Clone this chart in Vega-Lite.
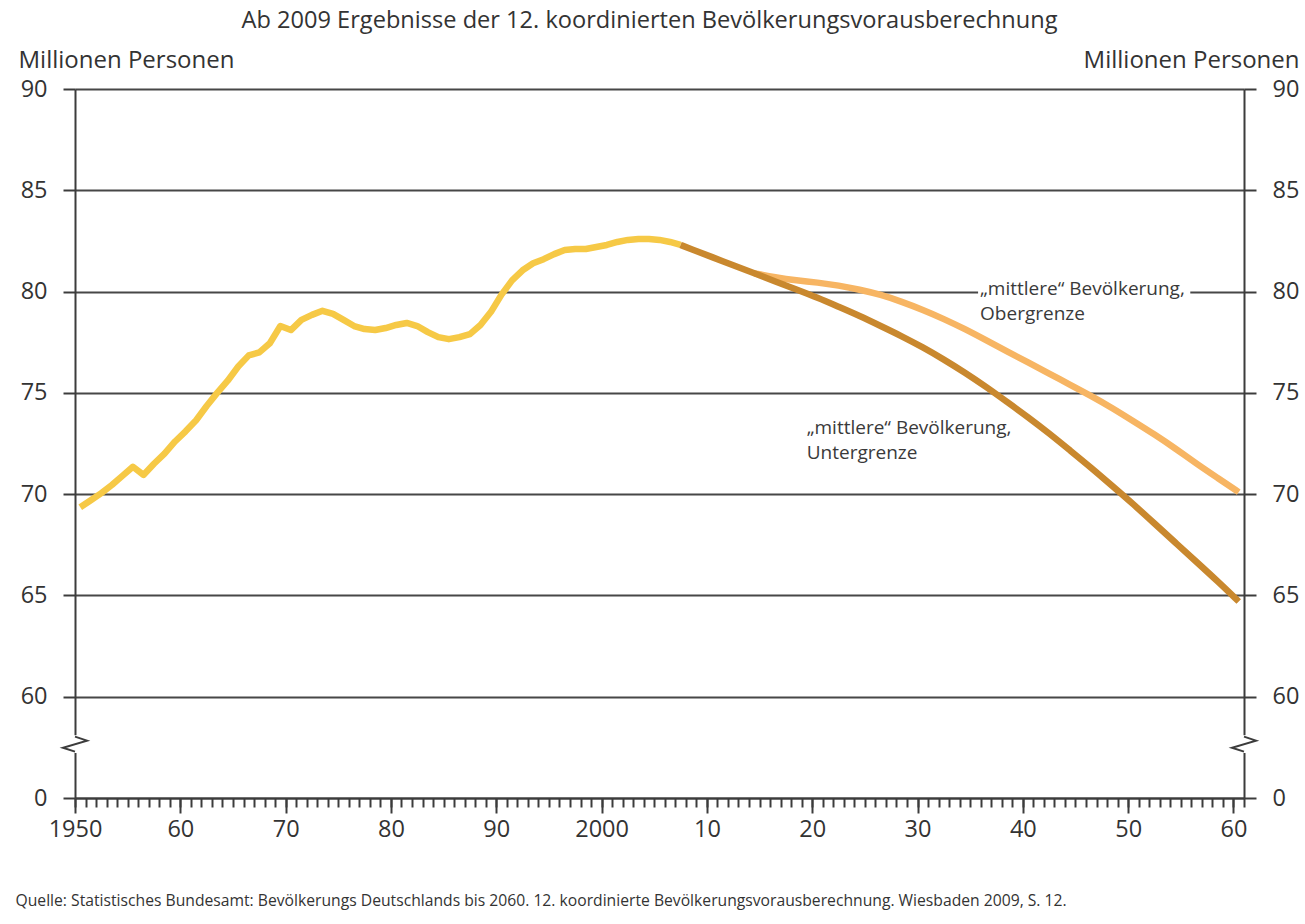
{
  "$schema": "https://vega.github.io/schema/vega-lite/v6.json",
  "width": 1169,
  "height": 709,
  "autosize": "none",
  "padding": {"left": 75, "top": 89, "right": 61, "bottom": 126},
  "background": "white",
  "title": {
    "text": "Ab 2009 Ergebnisse der 12. koordinierten Bevölkerungsvorausberechnung",
    "anchor": "middle",
    "frame": "group",
    "font": "Open Sans",
    "fontSize": 23.6,
    "fontWeight": "normal",
    "color": "#333333",
    "dx": -10,
    "offset": 15
  },
  "config": {
    "view": {"stroke": null},
    "font": "Open Sans",
    "axis": {
      "domainColor": "#3c3c3c",
      "domainWidth": 2,
      "tickColor": "#3c3c3c",
      "tickWidth": 2,
      "gridColor": "#474747",
      "gridWidth": 2,
      "labelFont": "Open Sans",
      "labelColor": "#333333",
      "labelFontSize": 23.5,
      "titleFont": "Open Sans",
      "titleColor": "#333333",
      "titleFontWeight": "normal"
    }
  },
  "datasets": {
    "hist": [
      {"year": 1950, "value": 69.35}, {"year": 1951, "value": 69.7}, {"year": 1952, "value": 70.05},
      {"year": 1953, "value": 70.45}, {"year": 1954, "value": 70.9}, {"year": 1955, "value": 71.35},
      {"year": 1956, "value": 70.95}, {"year": 1957, "value": 71.5}, {"year": 1958, "value": 72.0},
      {"year": 1959, "value": 72.6}, {"year": 1960, "value": 73.1}, {"year": 1961, "value": 73.65},
      {"year": 1962, "value": 74.35}, {"year": 1963, "value": 75.0}, {"year": 1964, "value": 75.6},
      {"year": 1965, "value": 76.3}, {"year": 1966, "value": 76.85}, {"year": 1967, "value": 77.0},
      {"year": 1968, "value": 77.45}, {"year": 1969, "value": 78.3}, {"year": 1970, "value": 78.1},
      {"year": 1971, "value": 78.6}, {"year": 1972, "value": 78.85}, {"year": 1973, "value": 79.05},
      {"year": 1974, "value": 78.9}, {"year": 1975, "value": 78.6}, {"year": 1976, "value": 78.3},
      {"year": 1977, "value": 78.15}, {"year": 1978, "value": 78.1}, {"year": 1979, "value": 78.2},
      {"year": 1980, "value": 78.35}, {"year": 1981, "value": 78.45}, {"year": 1982, "value": 78.3},
      {"year": 1983, "value": 78.0}, {"year": 1984, "value": 77.75}, {"year": 1985, "value": 77.65},
      {"year": 1986, "value": 77.75}, {"year": 1987, "value": 77.9}, {"year": 1988, "value": 78.35},
      {"year": 1989, "value": 79.0}, {"year": 1990, "value": 79.85}, {"year": 1991, "value": 80.55},
      {"year": 1992, "value": 81.05}, {"year": 1993, "value": 81.4}, {"year": 1994, "value": 81.6},
      {"year": 1995, "value": 81.85}, {"year": 1996, "value": 82.05}, {"year": 1997, "value": 82.1},
      {"year": 1998, "value": 82.1}, {"year": 1999, "value": 82.2}, {"year": 2000, "value": 82.3},
      {"year": 2001, "value": 82.45}, {"year": 2002, "value": 82.55}, {"year": 2003, "value": 82.6},
      {"year": 2004, "value": 82.6}, {"year": 2005, "value": 82.55}, {"year": 2006, "value": 82.45},
      {"year": 2007, "value": 82.3}
    ],
    "unter": [
      {"year": 2007, "value": 82.3}, {"year": 2008, "value": 82.1}, {"year": 2010, "value": 81.7},
      {"year": 2012, "value": 81.3}, {"year": 2014, "value": 80.9}, {"year": 2016, "value": 80.5},
      {"year": 2018, "value": 80.1}, {"year": 2020, "value": 79.7}, {"year": 2022, "value": 79.25},
      {"year": 2024, "value": 78.8}, {"year": 2026, "value": 78.3}, {"year": 2028, "value": 77.8},
      {"year": 2030, "value": 77.25}, {"year": 2032, "value": 76.65}, {"year": 2034, "value": 76.0},
      {"year": 2036, "value": 75.3}, {"year": 2038, "value": 74.55}, {"year": 2040, "value": 73.8},
      {"year": 2042, "value": 73.0}, {"year": 2044, "value": 72.15}, {"year": 2046, "value": 71.3},
      {"year": 2048, "value": 70.4}, {"year": 2050, "value": 69.5}, {"year": 2052, "value": 68.55},
      {"year": 2054, "value": 67.6}, {"year": 2056, "value": 66.65}, {"year": 2058, "value": 65.7},
      {"year": 2060, "value": 64.7}
    ],
    "ober": [
      {"year": 2014, "value": 80.9}, {"year": 2016, "value": 80.7}, {"year": 2018, "value": 80.55},
      {"year": 2020, "value": 80.45}, {"year": 2022, "value": 80.3}, {"year": 2024, "value": 80.1},
      {"year": 2026, "value": 79.85}, {"year": 2028, "value": 79.5}, {"year": 2030, "value": 79.1},
      {"year": 2032, "value": 78.65}, {"year": 2034, "value": 78.15}, {"year": 2036, "value": 77.6},
      {"year": 2038, "value": 77.05}, {"year": 2040, "value": 76.5}, {"year": 2042, "value": 75.95},
      {"year": 2044, "value": 75.4}, {"year": 2046, "value": 74.85}, {"year": 2048, "value": 74.25},
      {"year": 2050, "value": 73.6}, {"year": 2052, "value": 72.95}, {"year": 2054, "value": 72.25},
      {"year": 2056, "value": 71.5}, {"year": 2058, "value": 70.8}, {"year": 2060, "value": 70.1}
    ],
    "labels": [
      {"year": 2035.44, "value": 80.56, "text": "„mittlere“ Bevölkerung,"},
      {"year": 2035.44, "value": 79.33, "text": "Obergrenze"},
      {"year": 2018.98, "value": 73.72, "text": "„mittlere“ Bevölkerung,"},
      {"year": 2018.98, "value": 72.49, "text": "Untergrenze"}
    ],
    "mask": [
      {"x1": 2035.25, "x2": 2055.4, "y1": 80.35, "y2": 79.65}
    ],
    "brk": [
      {"side": "L", "i": 0, "year": 1949.5, "value": 58.03},
      {"side": "L", "i": 1, "year": 1950.64, "value": 57.83},
      {"side": "L", "i": 2, "year": 1948.36, "value": 57.48},
      {"side": "L", "i": 3, "year": 1949.5, "value": 57.29},
      {"side": "R", "i": 0, "year": 2060.5, "value": 58.03},
      {"side": "R", "i": 1, "year": 2061.64, "value": 57.83},
      {"side": "R", "i": 2, "year": 2059.36, "value": 57.48},
      {"side": "R", "i": 3, "year": 2060.5, "value": 57.29}
    ],
    "cover": [
      {"year": 1949.5, "top": 58.1, "bottom": 57.22},
      {"year": 2060.5, "top": 58.1, "bottom": 57.22}
    ]
  },
  "layer": [
    {
      "data": {"name": "hist"},
      "mark": {"type": "line", "color": "#F6C946", "strokeWidth": 6.5, "strokeCap": "butt", "strokeJoin": "round"},
      "encoding": {
        "x": {
          "field": "year", "type": "quantitative",
          "scale": {"domain": [1949.5, 2060.5], "nice": false, "zero": false},
          "axis": {
            "orient": "bottom",
            "values": [1949.5, 1959.5, 1969.5, 1979.5, 1989.5, 1999.5, 2009.5, 2019.5, 2029.5, 2039.5, 2049.5, 2059.5],
            "labelExpr": "datum.value == 1949.5 || datum.value == 1999.5 ? toString(datum.value + 0.5) : substring(toString(datum.value + 0.5), 2, 4)",
            "tickSize": 15,
            "labelPadding": 4,
            "grid": false,
            "labelFlush": false,
            "labelOverlap": false,
            "title": "Quelle: Statistisches Bundesamt: Bevölkerungs Deutschlands bis 2060. 12. koordinierte Bevölkerungsvorausberechnung. Wiesbaden 2009, S. 12.",
            "titleFont": "Open Sans",
            "titleFontSize": 15.7,
            "titleAlign": "left",
            "titleBaseline": "alphabetic",
            "titleAnchor": "start",
            "titleX": -60,
            "titleY": 107
          }
        },
        "y": {
          "field": "value", "type": "quantitative",
          "scale": {"domain": [55, 90], "nice": false, "zero": false},
          "axis": {
            "orient": "left",
            "values": [55, 60, 65, 70, 75, 80, 85, 90],
            "labelExpr": "datum.value == 55 ? '0' : toString(datum.value)",
            "tickSize": 12,
            "labelPadding": 16,
            "grid": true,
            "labelFlush": false,
            "labelOverlap": false,
            "title": "Millionen Personen",
            "titleFontSize": 24,
            "titleAngle": 0,
            "titleAlign": "left",
            "titleBaseline": "alphabetic",
            "titleX": -57,
            "titleY": -22
          }
        }
      }
    },
    {
      "data": {"name": "ober"},
      "mark": {"type": "line", "color": "#F7B563", "strokeWidth": 6.5, "strokeCap": "butt", "interpolate": "basis"},
      "encoding": {
        "x": {
          "field": "year", "type": "quantitative",
          "scale": {"domain": [1949.5, 2060.5], "nice": false, "zero": false},
          "axis": {
            "orient": "bottom",
            "values": [1949.5, 1950.5, 1951.5, 1952.5, 1953.5, 1954.5, 1955.5, 1956.5, 1957.5, 1958.5,
                       1959.5, 1960.5, 1961.5, 1962.5, 1963.5, 1964.5, 1965.5, 1966.5, 1967.5, 1968.5,
                       1969.5, 1970.5, 1971.5, 1972.5, 1973.5, 1974.5, 1975.5, 1976.5, 1977.5, 1978.5,
                       1979.5, 1980.5, 1981.5, 1982.5, 1983.5, 1984.5, 1985.5, 1986.5, 1987.5, 1988.5,
                       1989.5, 1990.5, 1991.5, 1992.5, 1993.5, 1994.5, 1995.5, 1996.5, 1997.5, 1998.5,
                       1999.5, 2000.5, 2001.5, 2002.5, 2003.5, 2004.5, 2005.5, 2006.5, 2007.5, 2008.5,
                       2009.5, 2010.5, 2011.5, 2012.5, 2013.5, 2014.5, 2015.5, 2016.5, 2017.5, 2018.5,
                       2019.5, 2020.5, 2021.5, 2022.5, 2023.5, 2024.5, 2025.5, 2026.5, 2027.5, 2028.5,
                       2029.5, 2030.5, 2031.5, 2032.5, 2033.5, 2034.5, 2035.5, 2036.5, 2037.5, 2038.5,
                       2039.5, 2040.5, 2041.5, 2042.5, 2043.5, 2044.5, 2045.5, 2046.5, 2047.5, 2048.5,
                       2049.5, 2050.5, 2051.5, 2052.5, 2053.5, 2054.5, 2055.5, 2056.5, 2057.5, 2058.5,
                       2059.5, 2060.5],
            "labels": false,
            "domain": false,
            "grid": false,
            "tickSize": 9,
            "title": null
          }
        },
        "y": {
          "field": "value", "type": "quantitative",
          "scale": {"domain": [55, 90], "nice": false, "zero": false},
          "axis": {
            "orient": "right",
            "values": [55, 60, 65, 70, 75, 80, 85, 90],
            "labelExpr": "datum.value == 55 ? '0' : toString(datum.value)",
            "tickSize": 12,
            "labelPadding": 16,
            "grid": false,
            "labelFlush": false,
            "labelOverlap": false,
            "title": "Millionen Personen",
            "titleFontSize": 24,
            "titleAngle": 0,
            "titleAlign": "right",
            "titleBaseline": "alphabetic",
            "titleX": 55,
            "titleY": -22
          }
        }
      }
    },
    {
      "data": {"name": "unter"},
      "mark": {"type": "line", "color": "#C9882E", "strokeWidth": 6.5, "strokeCap": "butt", "interpolate": "basis"},
      "encoding": {
        "x": {"field": "year", "type": "quantitative", "scale": {"domain": [1949.5, 2060.5], "nice": false, "zero": false}, "axis": null},
        "y": {"field": "value", "type": "quantitative", "scale": {"domain": [55, 90], "nice": false, "zero": false}, "axis": null}
      }
    },
    {
      "data": {"name": "mask"},
      "mark": {"type": "rect", "color": "white"},
      "encoding": {
        "x": {"field": "x1", "type": "quantitative", "scale": {"domain": [1949.5, 2060.5], "nice": false, "zero": false}, "axis": null},
        "x2": {"field": "x2"},
        "y": {"field": "y1", "type": "quantitative", "scale": {"domain": [55, 90], "nice": false, "zero": false}, "axis": null},
        "y2": {"field": "y2"}
      }
    },
    {
      "data": {"name": "labels"},
      "mark": {"type": "text", "align": "left", "baseline": "top", "fontSize": 19, "font": "Open Sans", "color": "#3a3a3a"},
      "encoding": {
        "x": {"field": "year", "type": "quantitative", "scale": {"domain": [1949.5, 2060.5], "nice": false, "zero": false}, "axis": null},
        "y": {"field": "value", "type": "quantitative", "scale": {"domain": [55, 90], "nice": false, "zero": false}, "axis": null},
        "text": {"field": "text"}
      }
    },
    {
      "data": {"name": "cover"},
      "mark": {"type": "rule", "color": "white", "strokeWidth": 5},
      "encoding": {
        "x": {"field": "year", "type": "quantitative", "scale": {"domain": [1949.5, 2060.5], "nice": false, "zero": false}, "axis": null},
        "y": {"field": "top", "type": "quantitative", "scale": {"domain": [55, 90], "nice": false, "zero": false}, "axis": null},
        "y2": {"field": "bottom"}
      }
    },
    {
      "data": {"name": "brk"},
      "mark": {"type": "line", "color": "#3c3c3c", "strokeWidth": 2},
      "encoding": {
        "x": {"field": "year", "type": "quantitative", "scale": {"domain": [1949.5, 2060.5], "nice": false, "zero": false}, "axis": null},
        "y": {"field": "value", "type": "quantitative", "scale": {"domain": [55, 90], "nice": false, "zero": false}, "axis": null},
        "detail": {"field": "side"},
        "order": {"field": "i"}
      }
    }
  ],
  "resolve": {"axis": {"x": "independent", "y": "independent"}}
}
